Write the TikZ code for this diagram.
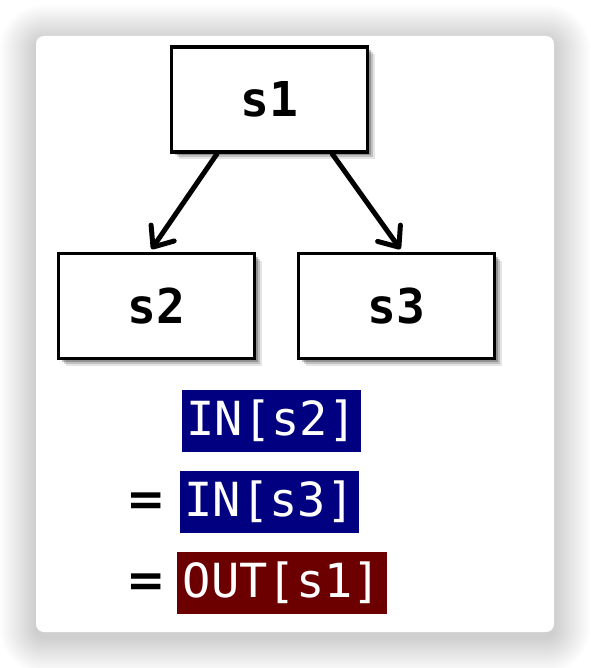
\documentclass[tikz,border=0pt]{standalone}
\usepackage{fontspec}
\setmonofont{DejaVu Sans Mono}
\newfontfamily\eqfont{DejaVu Sans}
\usetikzlibrary{arrows.meta,calc}
\definecolor{inblue}{RGB}{0,0,128}
\definecolor{outred}{RGB}{108,0,0}
\begin{document}
\begin{tikzpicture}[x=1pt,y=-1pt,
  stmtbox/.style={draw=black,line width=3.8pt,fill=white,minimum width=196pt,minimum height=105pt,inner sep=0pt,
    font=\ttfamily\bfseries\fontsize{48}{50}\selectfont,
    preaction={fill=black,opacity=0.10,transform canvas={shift={(7pt,-7pt)}}},
    preaction={fill=black,opacity=0.16,transform canvas={shift={(5pt,-5pt)}}},
    preaction={fill=black,opacity=0.24,transform canvas={shift={(3pt,-3pt)}}}},
  eqbox/.style={inner sep=0pt,minimum height=62pt,text=white,font=\ttfamily\fontsize{47}{50}\selectfont},
  eqsign/.style={inner sep=0pt,font=\eqfont\bfseries\fontsize{47}{50}\selectfont},
  arr/.style={line width=5pt,line cap=round,-{Straight Barb[length=17pt,width=28pt,round]},shorten >=3pt}]
\useasboundingbox (0,0) rectangle (590,668);
% card shadow
\foreach \i [evaluate=\i as \d using \i*1.5, evaluate=\i as \r using 8+\i*1.5] in {1,...,24}
  \fill[black,opacity=0.009,rounded corners=\r pt] (36-\d,36-\d+5) rectangle (554+\d,632+\d+5);
\fill[white,rounded corners=8pt] (36,36) rectangle (554,632);
% statement boxes
\node[stmtbox] (s1) at (269.5,99.5) {s1};
\node[stmtbox] (s2) at (156.5,306) {s2};
\node[stmtbox] (s3) at (396.5,306) {s3};
% arrows
\draw[arr] ($(s1.south west)!0.237!(s1.south east)$) -- ($(s2.north west)!0.467!(s2.north east)$);
\draw[arr] ($(s1.south west)!0.814!(s1.south east)$) -- ($(s3.north west)!0.528!(s3.north east)$);
% equation
\node[eqbox,fill=inblue,minimum width=179pt] (in2) at (271.5,421) {IN[s2]};
\node[eqbox,fill=inblue,minimum width=179pt] (in3) at (269.5,502) {IN[s3]};
\node[eqbox,fill=outred,minimum width=210pt] (out1) at (282,583) {OUT[s1]};
\node[eqsign] (eq1) at (146,504) {=};
\node[eqsign] (eq2) at (146,585) {=};
\end{tikzpicture}
\end{document}
